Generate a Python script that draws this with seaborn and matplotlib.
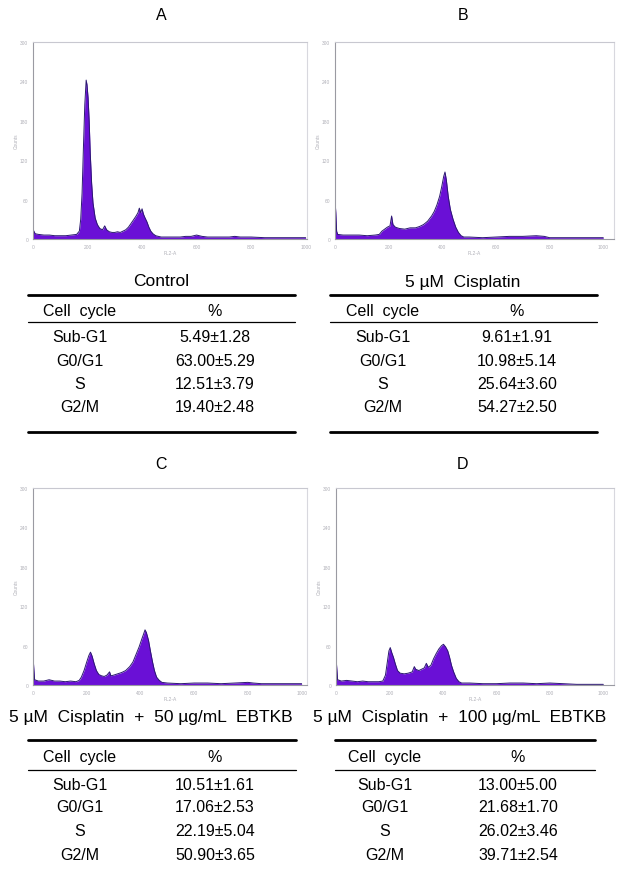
import matplotlib
matplotlib.use("Agg")
import matplotlib.pyplot as plt
import seaborn as sns
import pandas as pd
from matplotlib.lines import Line2D

# --- flow cytometry profiles (FL2-A channel vs counts) ---
ch_a = [0, 3, 8, 20, 40, 60, 80, 100, 120, 140, 160, 170, 175, 180, 185, 190, 195, 198,
        202, 206, 210, 215, 220, 228, 236, 245, 255, 263, 270, 280, 290, 300, 310, 320,
        330, 340, 350, 360, 370, 378, 385, 390, 395, 400, 405, 410, 418, 425, 432, 440,
        450, 460, 470, 480, 500, 520, 540, 560, 580, 600, 620, 640, 660, 680, 700, 720,
        740, 760, 780, 800, 850, 900, 950, 1000]
cnt_a = [15, 12, 8, 7, 6, 6, 5, 5, 5, 6, 7, 12, 30, 70, 140, 205, 242, 235,
         215, 180, 130, 85, 55, 32, 22, 16, 14, 20, 14, 11, 10, 10, 11, 10,
         12, 14, 18, 24, 30, 35, 40, 47, 40, 46, 38, 33, 26, 18, 12, 8,
         5, 4, 3, 3, 3, 3, 3, 4, 4, 6, 4, 3, 3, 3, 3, 3,
         4, 3, 3, 3, 2, 2, 2, 2]

ch_b = [0, 3, 6, 10, 30, 60, 90, 120, 150, 165, 175, 185, 195, 205, 211, 216, 225, 240,
        260, 280, 300, 315, 330, 345, 360, 370, 380, 390, 398, 405, 410, 415, 422, 430,
        440, 450, 460, 470, 480, 500, 550, 600, 650, 700, 750, 780, 800, 850, 900, 950, 1000]
cnt_b = [60, 40, 12, 7, 6, 6, 6, 5, 6, 7, 12, 15, 18, 20, 35, 22, 18, 16,
         15, 17, 17, 19, 22, 27, 35, 42, 52, 65, 80, 95, 102, 90, 65, 45,
         30, 18, 10, 5, 3, 3, 2, 3, 4, 4, 5, 4, 2, 2, 2, 2, 2]

ch_c = [0, 3, 6, 20, 40, 60, 80, 100, 120, 140, 160, 172, 180, 190, 200, 208, 214, 220,
        228, 236, 245, 255, 265, 275, 285, 290, 300, 315, 330, 345, 360, 372, 385, 395,
        405, 412, 417, 422, 430, 437, 445, 452, 460, 470, 480, 500, 550, 600, 650, 700,
        750, 800, 820, 850, 900, 950, 1000]
cnt_c = [45, 25, 8, 6, 6, 8, 6, 6, 5, 6, 5, 7, 12, 22, 35, 45, 50, 44,
         32, 22, 16, 14, 13, 15, 20, 14, 15, 17, 19, 22, 28, 35, 48, 58,
         70, 78, 84, 80, 68, 52, 35, 22, 12, 7, 4, 3, 2, 3, 3, 2,
         3, 4, 3, 2, 2, 2, 2]

ch_d = [0, 3, 6, 20, 40, 60, 80, 100, 120, 140, 160, 175, 185, 192, 198, 203, 208, 215,
        222, 230, 240, 255, 270, 285, 293, 298, 310, 320, 330, 338, 345, 355, 365, 375,
        385, 395, 402, 410, 418, 425, 432, 440, 450, 460, 470, 500, 550, 600, 650, 700,
        750, 800, 850, 900, 950, 1000]
cnt_d = [42, 25, 8, 6, 7, 6, 5, 6, 5, 5, 5, 6, 15, 35, 52, 57, 50, 42,
         32, 22, 18, 17, 18, 20, 28, 24, 22, 24, 26, 33, 27, 30, 40, 48,
         55, 60, 62, 58, 52, 42, 30, 20, 10, 5, 3, 3, 2, 2, 3, 3,
         2, 3, 2, 1, 1, 1]

panel_labels = ["A", "B", "C", "D"]
treatments = ["Control", "5 \u00b5M  Cisplatin",
              "5 \u00b5M  Cisplatin  +  50 \u00b5g/mL  EBTKB",
              "5 \u00b5M  Cisplatin  +  100 \u00b5g/mL  EBTKB"]
phases = ["Sub-G1", "G0/G1", "S", "G2/M"]
pct_a = ["5.49\u00b11.28", "63.00\u00b15.29", "12.51\u00b13.79", "19.40\u00b12.48"]
pct_b = ["9.61\u00b11.91", "10.98\u00b15.14", "25.64\u00b13.60", "54.27\u00b12.50"]
pct_c = ["10.51\u00b11.61", "17.06\u00b12.53", "22.19\u00b15.04", "50.90\u00b13.65"]
pct_d = ["13.00\u00b15.00", "21.68\u00b11.70", "26.02\u00b13.46", "39.71\u00b12.54"]
x_ticks = [0, 200, 400, 600, 800, 1000]
y_ticks = [0, 60, 120, 180, 240, 300]

sns.set_theme(style="white")
plt.rcParams['font.family'] = ['Liberation Sans', 'DejaVu Sans']
plt.rcParams['text.color'] = 'black'

W, H = 621, 878
fig = plt.figure(figsize=(W / 100, H / 100), dpi=100)
fill_col = "#6a10d6"
edge_col = "#2b1870"
frame_col = "#9a9aa2"


def fx(x):
    return x / W


def fy(y):
    return 1 - y / H


def add_hist(box, ch, cnt, xmax):
    l, t, r, b = box
    ax = fig.add_axes([fx(l), fy(b), (r - l) / W, (b - t) / H])
    df = pd.DataFrame({"channel": ch, "count": cnt})
    ax.fill_between(df["channel"], df["count"], color=fill_col, lw=0)
    sns.lineplot(data=df, x="channel", y="count", ax=ax, color=edge_col, lw=0.7)
    ax.set_xlim(0, xmax)
    ax.set_ylim(0, 300)
    ax.set_xticks(x_ticks)
    ax.set_yticks(y_ticks)
    ax.tick_params(labelsize=3.5, colors="#b0b0b8", length=1.5, width=0.5, pad=2)
    ax.set_xlabel("FL2-A", fontsize=3.5, color="#b0b0b8", labelpad=1)
    ax.set_ylabel("Counts", fontsize=3.5, color="#b0b0b8", labelpad=1)
    for s in ax.spines.values():
        s.set_color(frame_col)
        s.set_linewidth(0.8)
    ax.spines["right"].set_color("#d8d8de")
    ax.spines["top"].set_color("#c8c8d0")
    return ax


def add_table(cx, x0, x1, y_title, y_top, y_head, y_thin, rows_y, y_bot, c1, c2, title, vals):
    fs = 11.5
    fig.text(fx(cx), fy(y_title), title, ha="center", va="center", fontsize=12.5)
    fig.add_artist(Line2D([fx(x0), fx(x1)], [fy(y_top)] * 2, color="black", lw=2.0))
    fig.text(fx(c1), fy(y_head), "Cell  cycle", ha="center", va="center", fontsize=fs)
    fig.text(fx(c2), fy(y_head), "%", ha="center", va="center", fontsize=fs)
    fig.add_artist(Line2D([fx(x0), fx(x1)], [fy(y_thin)] * 2, color="black", lw=0.9))
    for yy, ph, v in zip(rows_y, phases, vals):
        fig.text(fx(c1), fy(yy), ph, ha="center", va="center", fontsize=fs)
        fig.text(fx(c2), fy(yy), v, ha="center", va="center", fontsize=fs)
    if y_bot is not None:
        fig.add_artist(Line2D([fx(x0), fx(x1)], [fy(y_bot)] * 2, color="black", lw=2.0))


# histograms
add_hist((33, 43, 307, 240), ch_a, cnt_a, 1005)
add_hist((335, 43, 614, 240), ch_b, cnt_b, 1040)
add_hist((33, 489, 307, 686), ch_c, cnt_c, 1020)
add_hist((336, 489, 614, 686), ch_d, cnt_d, 1040)

# panel letters
for (x, y), lab in zip([(161, 15), (463, 15), (161, 465), (463, 465)], panel_labels):
    fig.text(fx(x), fy(y), lab, ha="center", va="center", fontsize=11.5)

# tables
add_table(161, 28, 295, 282, 296, 312, 323, [338, 362, 385, 408], 433, 80, 215,
          treatments[0], pct_a)
add_table(463, 330, 597, 282, 296, 312, 323, [338, 362, 385, 408], 433, 383, 517,
          treatments[1], pct_b)
add_table(151, 28, 296, 718, 741, 758, 771, [785, 808, 832, 856], None, 80, 215,
          treatments[2], pct_c)
add_table(460, 335, 595, 718, 741, 758, 771, [785, 808, 832, 856], None, 385, 518,
          treatments[3], pct_d)

fig.savefig("out.png", dpi=100)
plt.close(fig)
